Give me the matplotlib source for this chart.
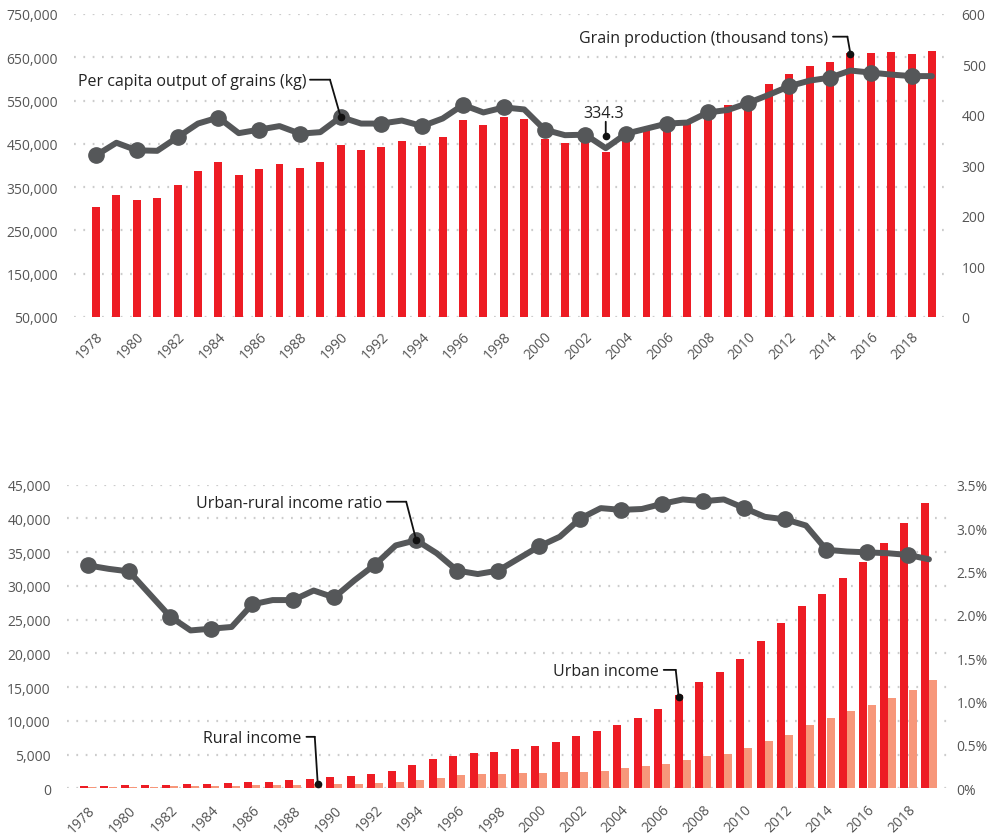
import numpy as np
from matplotlib import pyplot as plt
from matplotlib.transforms import offset_copy
from matplotlib.ticker import FuncFormatter

plt.rcParams['font.family'] = ['Open Sans', 'DejaVu Sans']

years = np.arange(1978, 2020)

# grain production, thousand tons
grain = [304765, 332115, 320555, 325020, 354500, 387275, 407305, 379108, 391512, 402977,
         394081, 407549, 446243, 435293, 442658, 456488, 445101, 466618, 504535, 494171,
         512295, 508386, 462175, 452637, 457058, 430695, 469469, 484022, 498042, 504139,
         534343, 539409, 559113, 588493, 612226, 630482, 639648, 660603, 660435, 661607,
         657892, 663843]
# per capita output of grains, kg
per_capita = [320, 345, 330, 329, 356, 383, 395, 364, 371, 378,
              363, 366, 396, 383, 383, 389, 378, 393, 420, 405,
              415, 411, 371, 360, 361, 334.3, 363, 373, 383, 385,
              405, 410, 424, 440, 457, 468, 474, 488, 484, 480,
              477, 477]

# per capita income, yuan
urban = [343, 405, 478, 500, 535, 565, 652, 739, 901, 1002,
         1180, 1450, 1600, 1850, 2150, 2577, 3496, 4283, 4839, 5160,
         5425, 5854, 6280, 6860, 7703, 8472, 9422, 10493, 11760, 13786,
         15781, 17175, 19109, 21810, 24565, 26955, 28844, 31195, 33616, 36396,
         39251, 42359]
rural = [134, 160, 191, 223, 270, 310, 355, 398, 424, 463,
         545, 602, 686, 709, 784, 922, 1221, 1578, 1926, 2090,
         2162, 2210, 2253, 2366, 2476, 2622, 2936, 3255, 3587, 4140,
         4761, 5153, 5919, 6977, 7917, 9430, 10489, 11422, 12363, 13432,
         14617, 16021]
ratio = [2.57, 2.53, 2.50, 2.24, 1.98, 1.82, 1.84, 1.86, 2.12, 2.17,
         2.17, 2.28, 2.20, 2.40, 2.58, 2.80, 2.86, 2.71, 2.51, 2.47,
         2.51, 2.65, 2.79, 2.90, 3.11, 3.23, 3.21, 3.22, 3.28, 3.33,
         3.31, 3.33, 3.23, 3.13, 3.10, 3.03, 2.75, 2.73, 2.72, 2.71,
         2.69, 2.64]

RED = '#ED1C24'
SALMON = '#F7977A'
GREY = '#555759'
TXT = '#222222'
TICK = '#555555'

fig = plt.figure(figsize=(9.96, 8.37), dpi=100)
ax1 = fig.add_axes([0.0743, 0.6201, 0.8745, 0.3620])
ax1r = ax1.twinx()
ax2 = fig.add_axes([0.0670, 0.0570, 0.8838, 0.3627])
ax2r = ax2.twinx()


def style(ax, axr, lpad, rpad, xpad):
    for a in (ax, axr):
        for s in a.spines.values():
            s.set_visible(False)
    ax.set_axisbelow(True)
    ax.yaxis.grid(True, color='#cccccc', linestyle=(0, (0.8, 3.4)), linewidth=1.6)
    ax.tick_params(axis='y', length=0, labelsize=10, labelcolor=TICK, pad=lpad)
    axr.tick_params(axis='y', length=0, labelsize=10, labelcolor=TICK, pad=rpad)
    ax.tick_params(axis='x', length=0, labelsize=10, labelcolor=TICK, pad=xpad)
    ax.set_xticks(years[::2])
    ax.set_xticklabels([str(y) for y in years[::2]], rotation=45, ha='right',
                       rotation_mode='anchor')


def leader(ax, x, y, label, ex, ey, hx, gap=4, doff=0):
    dot = offset_copy(ax.transData, fig=fig, x=0, y=doff, units='dots')
    elbow = offset_copy(ax.transData, fig=fig, x=ex, y=ey + doff, units='dots')
    end = offset_copy(ax.transData, fig=fig, x=ex - hx, y=ey + doff, units='dots')
    txt = offset_copy(ax.transData, fig=fig, x=ex - hx - gap, y=ey + doff - 5, units='dots')
    kw = dict(arrowstyle='-', lw=1.3, color='#111111', shrinkA=0, shrinkB=0)
    ax.annotate('', xy=(x, y), xycoords=dot, xytext=(x, y), textcoords=elbow, arrowprops=kw)
    ax.annotate('', xy=(x, y), xycoords=elbow, xytext=(x, y), textcoords=end, arrowprops=kw)
    ax.text(x, y, label, transform=txt, ha='right', va='baseline', fontsize=11.5, color=TXT)
    ax.plot([x], [y], 'o', color='#111111', ms=4.5, transform=dot, zorder=10)


# top panel
ax1.bar(years, grain, width=0.39, color=RED, zorder=2)
ax1.set_ylim(50000, 750000)
ax1.set_yticks(np.arange(50000, 750001, 100000))
ax1.yaxis.set_major_formatter(FuncFormatter(lambda v, p: '{:,.0f}'.format(v)))
ax1r.plot(years, per_capita, color=GREY, lw=4.3, marker='o', ms=11, markevery=2,
          solid_joinstyle='round', solid_capstyle='round')
ax1r.set_ylim(0, 600)
ax1r.set_yticks(np.arange(0, 601, 100))
ax1.set_xlim(1978 - 1.08, 2019 + 0.64)
style(ax1, ax1r, 11.5, 12, 8.5)

leader(ax1r, 1990, per_capita[12], 'Per capita output of grains (kg)', -10.7, 37.3, 20, gap=3.5)
leader(ax1, 2015, grain[37], 'Grain production (thousand tons)', -3, 17, 14.4, gap=5, doff=-1)
i03 = list(years).index(2003)
d03 = offset_copy(ax1r.transData, fig=fig, x=0, y=12, units='dots')
t03 = offset_copy(ax1r.transData, fig=fig, x=0, y=26.4, units='dots')
ax1r.annotate('', xy=(2003, per_capita[i03]), xycoords=d03, xytext=(2003, per_capita[i03]),
              textcoords=t03, arrowprops=dict(arrowstyle='-', lw=1.3, color='#111111',
                                              shrinkA=0, shrinkB=0))
ax1r.plot([2003], [per_capita[i03]], 'o', color='#111111', ms=4.5, transform=d03, zorder=10)
ax1r.text(2003, per_capita[i03], '{:.1f}'.format(per_capita[i03]),
          transform=offset_copy(ax1r.transData, fig=fig, x=-2, y=31.4, units='dots'),
          ha='center', va='baseline', fontsize=11.5, color=TXT)

# bottom panel
ax2.bar(years - 0.2, urban, width=0.39, color=RED, zorder=2)
ax2.bar(years + 0.2, rural, width=0.39, color=SALMON, zorder=2)
ax2.set_ylim(0, 45000)
ax2.set_yticks(np.arange(0, 45001, 5000))
ax2.yaxis.set_major_formatter(FuncFormatter(lambda v, p: '{:,.0f}'.format(v)))
ax2r.plot(years, ratio, color=GREY, lw=4.3, marker='o', ms=11, markevery=2,
          solid_joinstyle='round', solid_capstyle='round')
ax2r.set_ylim(0, 3.5)
ax2r.set_yticks(np.arange(0, 3.51, 0.5))
ax2r.yaxis.set_major_formatter(FuncFormatter(lambda v, p: '0%' if v == 0 else '{:.1f}%'.format(v)))
ax2.set_xlim(1978 - 1.04, 2019 + 0.88)
style(ax2, ax2r, 11.5, 7, 10)

leader(ax2r, 1994, ratio[16], 'Urban-rural income ratio', -10, 38.5, 19.3, gap=4.4)
leader(ax2, 1989 + 0.2, rural[11], 'Rural income', -3, 47.4, 8.3, gap=5)
leader(ax2, 2007 - 0.2, urban[29], 'Urban income', -3, 27.4, 12, gap=4.7, doff=-2)

fig.savefig('out.png', dpi=100)
